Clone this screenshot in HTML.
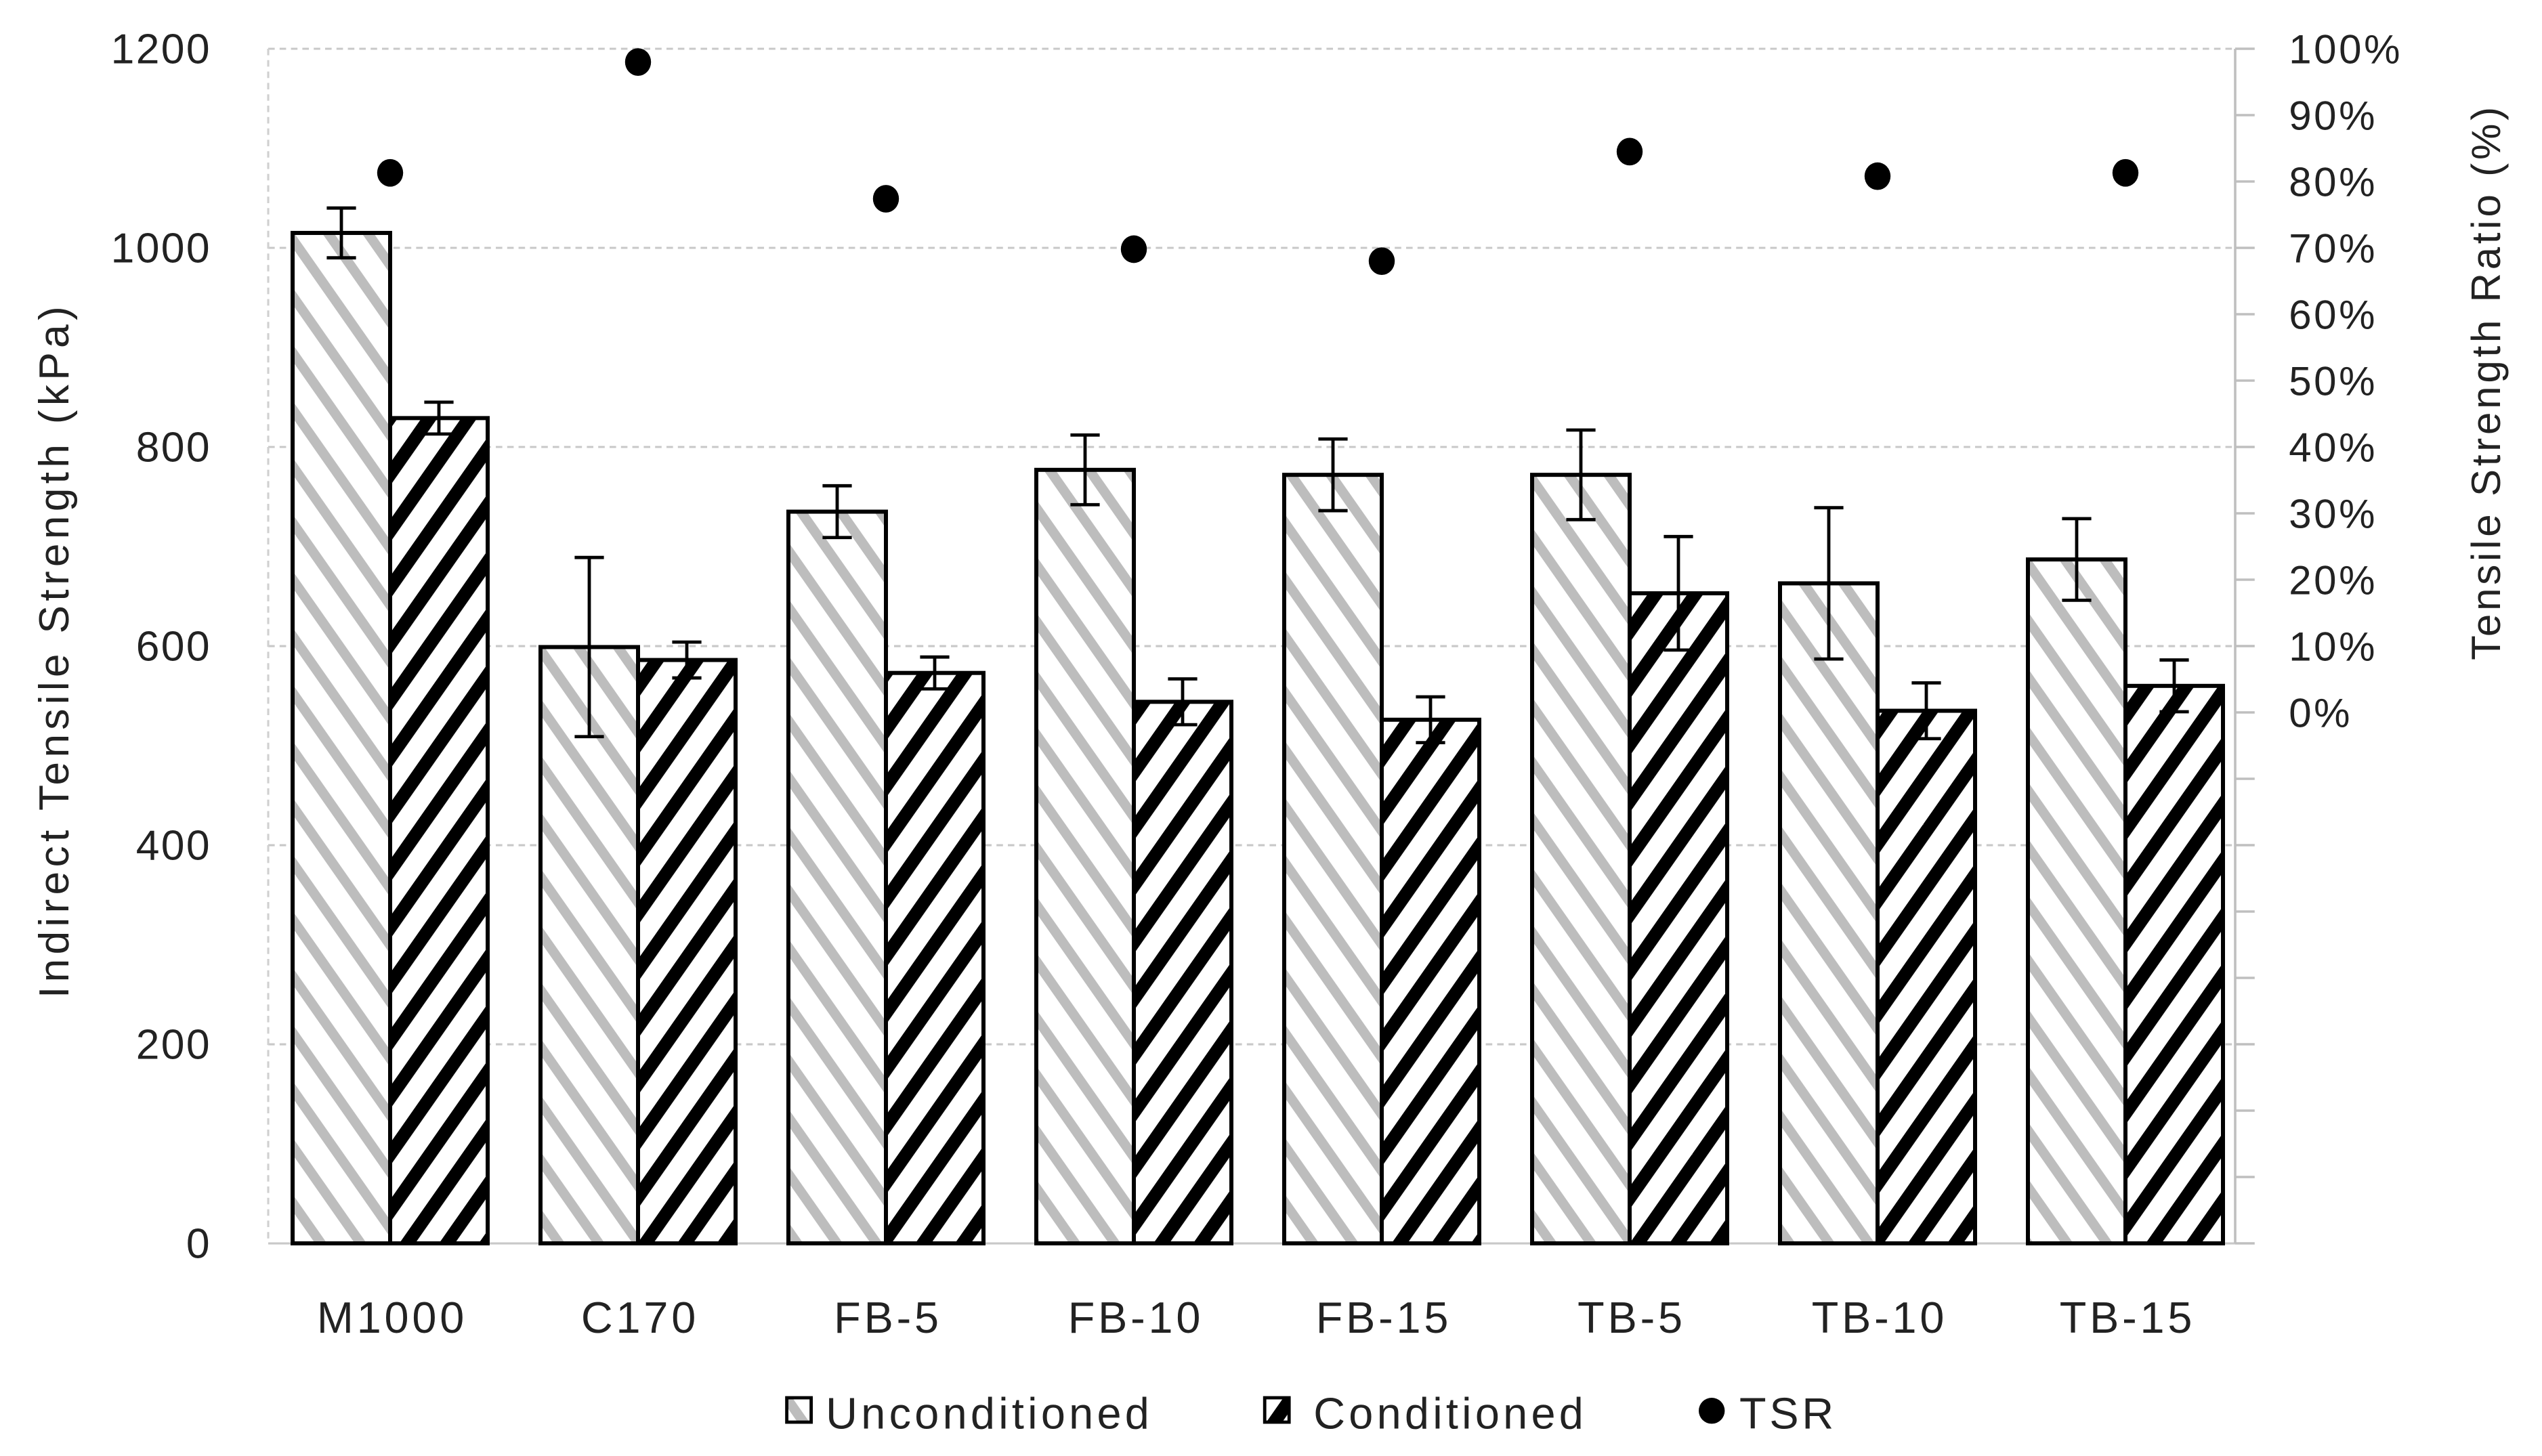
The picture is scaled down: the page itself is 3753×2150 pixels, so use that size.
<!DOCTYPE html>
<html><head><meta charset="utf-8"><style>
html,body{margin:0;padding:0;background:#fff;}
svg{display:block;}
text{font-family:"Liberation Sans",sans-serif;fill:#222;}
</style></head><body>
<svg id="chart" width="3753" height="2150" viewBox="0 0 1563.75 895.83" preserveAspectRatio="none" xmlns="http://www.w3.org/2000/svg">
<defs>
<pattern id="hatchU" patternUnits="userSpaceOnUse" width="20" height="20" patternTransform="rotate(-35)">
<rect width="20" height="20" fill="#fff"/><rect x="0" y="0" width="6" height="20" fill="#bdbdbd"/>
</pattern>
<pattern id="hatchC" patternUnits="userSpaceOnUse" width="20" height="20" patternTransform="rotate(35)">
<rect width="20" height="20" fill="#fff"/><rect x="0" y="0" width="8" height="20" fill="#000"/>
</pattern>
</defs>
<g id="grid"></g>
<g id="bars"></g>
<g id="axes"></g>
<g id="legend"></g>
</svg>
<script>
const categories = ["M1000","C170","FB-5","FB-10","FB-15","TB-5","TB-10","TB-15"];
const unconditioned = [1015,599,735,777,772,772,663,687];
const unconditionedErr = [25,90,26,35,36,45,76,41];
const conditioned = [829,586,573,544,526,653,535,560];
const conditionedErr = [16,18,16,23,23,57,28,26];
const tsr = [81.3,98,77.4,69.8,68,84.5,80.8,81.3];
const leftTicks = [0,200,400,600,800,1000,1200];
const rightTicks = [0,10,20,30,40,50,60,70,80,90,100];

const NS="http://www.w3.org/2000/svg";
const X0=165,X1=1385,Y0=765,Y1=30;
const yL=v=>Y0-(v/1200)*(Y0-Y1);
const yR=p=>Y0-((p+80)/180)*(Y0-Y1);
const gw=(X1-X0)/categories.length;
const gx=i=>X0+gw*i;
function mk(tag,attrs,parent){const e=document.createElementNS(NS,tag);for(const k in attrs)e.setAttribute(k,attrs[k]);parent.appendChild(e);return e;}
const grid=document.getElementById('grid'),bars=document.getElementById('bars'),axes=document.getElementById('axes'),legend=document.getElementById('legend');

leftTicks.forEach(v=>{
  const l=mk('line',{x1:X0,x2:X1-10,y1:yL(v),y2:yL(v),stroke:'#c8c8c8','stroke-width':1.3,'stroke-dasharray':v===0?'none':'4 3'},grid);
  
  
  const t=mk('text',{x:130,y:yL(v)+9,'text-anchor':'end','font-size':26,'letter-spacing':1},axes);
  t.textContent=v;
  
  
});
mk('line',{x1:X0,x2:X0,y1:Y1,y2:Y0,stroke:'#d0d0d0','stroke-width':1.3,'stroke-dasharray':'4 3'},grid);

const RX=1375;
mk('line',{x1:RX,x2:RX,y1:Y1,y2:Y0,stroke:'#bfbfbf','stroke-width':1.5},axes);
for(let p=-80;p<=100;p+=10){
  mk('line',{x1:RX,x2:RX+12,y1:yR(p),y2:yR(p),stroke:'#bfbfbf','stroke-width':1.5},axes);
}
rightTicks.forEach(p=>{
  const t=mk('text',{x:1408,y:yR(p)+9,'font-size':25,'letter-spacing':1.5},axes);
  t.textContent=p+'%';
  
  
});

const bw=60;
categories.forEach((c,i)=>{
  const xu=gx(i)+15, xc=xu+bw;
  const r1=mk('rect',{x:xu,y:yL(unconditioned[i]),width:bw,height:Y0-yL(unconditioned[i]),fill:'url(#hatchU)',stroke:'#000','stroke-width':2.5},bars);
  
  
  const r2=mk('rect',{x:xc,y:yL(conditioned[i]),width:bw,height:Y0-yL(conditioned[i]),fill:'url(#hatchC)',stroke:'#000','stroke-width':2.5},bars);
  
  
  [[xu+bw/2,unconditioned[i],unconditionedErr[i]],[xc+bw/2,conditioned[i],conditionedErr[i]]].forEach(([cx,v,e])=>{
    const g=mk('g',{stroke:'#000','stroke-width':2},bars);
    
    
    mk('line',{x1:cx,x2:cx,y1:yL(v+e),y2:yL(v-e)},g);
    mk('line',{x1:cx-9,x2:cx+9,y1:yL(v+e),y2:yL(v+e)},g);
    mk('line',{x1:cx-9,x2:cx+9,y1:yL(v-e),y2:yL(v-e)},g);
  });
  const d=mk('ellipse',{cx:xu+bw,cy:yR(tsr[i]),rx:8,ry:8.5,fill:'#000'},bars);
  
  
  const t=mk('text',{x:gx(i)+gw/2,y:820,'text-anchor':'middle','font-size':27,'letter-spacing':2},axes);
  t.textContent=c;
  
  
});

const lt=mk('text',{x:0,y:0,'text-anchor':'middle','font-size':26,'letter-spacing':2.6,transform:'translate(42,400) rotate(-90)'},axes);
lt.textContent='Indirect Tensile Strength  (kPa)';


const rt=mk('text',{x:0,y:0,'text-anchor':'middle','font-size':25,'letter-spacing':2,transform:'translate(1538,235) rotate(-90)'},axes);
rt.textContent='Tensile Strength  Ratio (%)';



const l1=mk('rect',{x:484,y:860,width:15,height:15,fill:'url(#hatchU)',stroke:'#000','stroke-width':2},legend);


const t1=mk('text',{x:508,y:879,'font-size':27,'letter-spacing':2.2},legend);t1.textContent='Unconditioned';


const l2=mk('rect',{x:778,y:860,width:15,height:15,fill:'url(#hatchC)',stroke:'#000','stroke-width':2},legend);


const t2=mk('text',{x:808,y:879,'font-size':27,'letter-spacing':2.2},legend);t2.textContent='Conditioned';


const l3=mk('circle',{cx:1053,cy:868,r:8,fill:'#000'},legend);


const t3=mk('text',{x:1070,y:879,'font-size':27,'letter-spacing':2},legend);t3.textContent='TSR';


</script>
</body></html>
